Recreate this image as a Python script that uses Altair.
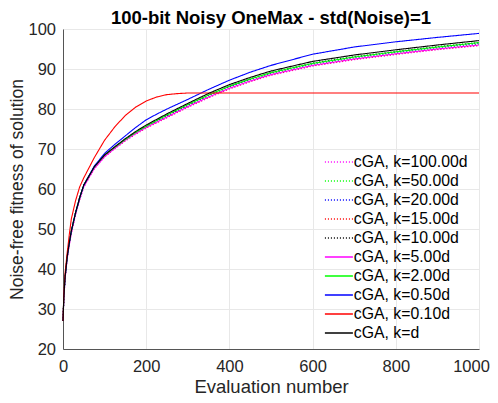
import altair as alt
import pandas as pd

evals = [0, 2, 5, 10, 15, 20, 30, 40, 50, 75, 100, 125, 150, 175, 200, 225,
         250, 275, 300, 350, 400, 450, 500, 600, 700, 800, 900, 1000]

labels = ["cGA, k=100.00d", "cGA, k=50.00d", "cGA, k=20.00d", "cGA, k=15.00d",
          "cGA, k=10.00d", "cGA, k=5.00d", "cGA, k=2.00d", "cGA, k=0.50d",
          "cGA, k=0.10d", "cGA, k=d"]
colors = ["#ff00ff", "#00ff00", "#0000ff", "#ff0000", "#000000",
          "#ff00ff", "#00ff00", "#0000ff", "#ff0000", "#000000"]
dotted = [True, True, True, True, True, False, False, False, False, False]

k100 = [27, 32.5, 37.5, 42.5, 46.0, 49.0, 53.6, 57.3, 60.5, 65.0, 68.0, 70.1,
        72.0, 73.7, 75.2, 76.5, 77.8, 79.1, 80.4, 82.8, 85.0, 86.8, 88.4, 90.7, 92.3, 93.6, 94.8, 95.8]
k50 = [27, 32.8, 37.8, 42.8, 46.3, 49.3, 53.8, 57.6, 60.8, 65.3, 68.3, 70.4,
       72.3, 74.0, 75.5, 76.9, 78.2, 79.5, 80.8, 83.2, 85.4, 87.2, 88.8, 91.1, 92.7, 94.0, 95.2, 96.2]
k20 = [27, 32.9, 37.9, 42.9, 46.4, 49.4, 53.9, 57.7, 60.9, 65.4, 68.4, 70.5,
       72.3, 74.0, 75.6, 77.0, 78.3, 79.6, 80.9, 83.4, 85.6, 87.4, 89.0, 91.3, 92.9, 94.2, 95.4, 96.4]
k15 = [27, 32.6, 37.6, 42.6, 46.1, 49.1, 53.7, 57.4, 60.6, 65.1, 68.1, 70.2,
       72.1, 73.8, 75.3, 76.6, 77.9, 79.2, 80.5, 82.9, 85.1, 86.9, 88.5, 90.8, 92.4, 93.7, 94.9, 95.9]
k10 = [27, 33.0, 38.0, 43.0, 46.5, 49.5, 54.0, 57.8, 61.0, 65.5, 68.5, 70.5,
       72.4, 74.1, 75.7, 77.1, 78.4, 79.7, 81.0, 83.5, 85.7, 87.5, 89.1, 91.5, 93.1, 94.4, 95.6, 96.6]
k5 = [27, 32.5, 37.5, 42.5, 46.0, 49.0, 53.6, 57.4, 60.6, 65.1, 68.1, 70.2,
      72.2, 73.9, 75.4, 76.7, 78.0, 79.3, 80.6, 83.0, 85.2, 87.0, 88.6, 90.9, 92.5, 93.8, 95.0, 96.0]
k2 = [27, 33.0, 38.0, 43.0, 46.5, 49.5, 54.0, 57.8, 61.0, 65.5, 68.5, 70.5,
      72.4, 74.2, 75.7, 77.1, 78.5, 79.8, 81.1, 83.5, 85.7, 87.5, 89.1, 91.4, 93.0, 94.3, 95.5, 96.6]
k05 = [27, 33.0, 38.0, 43.0, 46.5, 49.5, 54.0, 57.8, 61.0, 65.7, 68.9, 71.2,
       73.3, 75.4, 77.3, 78.7, 80.0, 81.2, 82.4, 84.9, 87.2, 89.2, 90.9, 93.7, 95.5, 96.8, 97.9, 98.9]
k01 = [27, 33.5, 39.0, 44.0, 48.5, 52.5, 57.0, 60.5, 62.8, 67.8, 72.2, 75.6,
       78.4, 80.5, 82.0, 83.0, 83.6, 83.85, 84.0, 84.0, 84.0, 84.0, 84.0, 84.0, 84.0, 84.0, 84.0, 84.0]
kd = [27, 33.0, 38.0, 43.0, 46.5, 49.5, 54.0, 57.8, 61.0, 65.5, 68.5, 70.6,
      72.6, 74.4, 76.0, 77.4, 78.8, 80.1, 81.4, 83.9, 86.1, 87.9, 89.5, 91.9, 93.5, 94.8, 96.0, 97.1]

series = [k100, k50, k20, k15, k10, k5, k2, k05, k01, kd]

rows = []
for i, (lab, vals) in enumerate(zip(labels, series)):
    for x, y in zip(evals, vals):
        rows.append({"series": lab, "order": i, "x": x, "y": y})
df = pd.DataFrame(rows)

dash_range = [[1, 2] if d else [1, 0] for d in dotted]

FONT = "Liberation Sans"


def legend():
    return alt.Legend(title=None, orient="none", legendX=268, legendY=125,
                      symbolType="M-2.8,0H2.8", symbolSize=100,
                      symbolStrokeWidth=1.5, labelFontSize=15.8,
                      labelFont=FONT, rowPadding=2.0, labelOffset=7,
                      labelColor="#000000")


chart = alt.Chart(df).mark_line(strokeWidth=1.1).encode(
    x=alt.X("x:Q", title="Evaluation number",
            scale=alt.Scale(domain=[0, 1000], nice=False),
            axis=alt.Axis(values=[0, 200, 400, 600, 800, 1000], format="d",
                          labelFlush=False, labelPadding=9.5, titlePadding=2,
                          labelOffset={"condition": {"test": "datum.value == 1000", "value": -8},
                                       "value": 0})),
    y=alt.Y("y:Q", title="Noise-free fitness of solution",
            scale=alt.Scale(domain=[20, 100], nice=False),
            axis=alt.Axis(values=[20, 30, 40, 50, 60, 70, 80, 90, 100],
                          labelPadding=7.5, titlePadding=1, titleFontSize=17.5)),
    color=alt.Color("series:N", sort=labels,
                    scale=alt.Scale(domain=labels, range=colors),
                    legend=legend()),
    strokeDash=alt.StrokeDash("series:N", sort=labels,
                              scale=alt.Scale(domain=labels, range=dash_range),
                              legend=legend()),
    detail="series:N",
    order="order:Q",
).properties(
    width=416, height=320,
    title=alt.TitleParams("100-bit Noisy OneMax - std(Noise)=1", font=FONT,
                          fontSize=18.5, fontWeight="bold", color="#000000",
                          offset=0, dy=6.5),
    autosize=alt.AutoSizeParams(type="none"),
    padding={"left": 55, "top": 21, "right": 11, "bottom": 46},
).configure_axis(
    labelFont=FONT, titleFont=FONT, labelFontSize=16.5, titleFontSize=18.5,
    titleFontWeight="normal", labelColor="#262626", titleColor="#262626",
    domainColor="#555555", gridColor="#e8e8e8", grid=True, ticks=False,
).configure_view(stroke=None)

chart.save("out.html", embed_options={"renderer": "svg", "actions": False})
